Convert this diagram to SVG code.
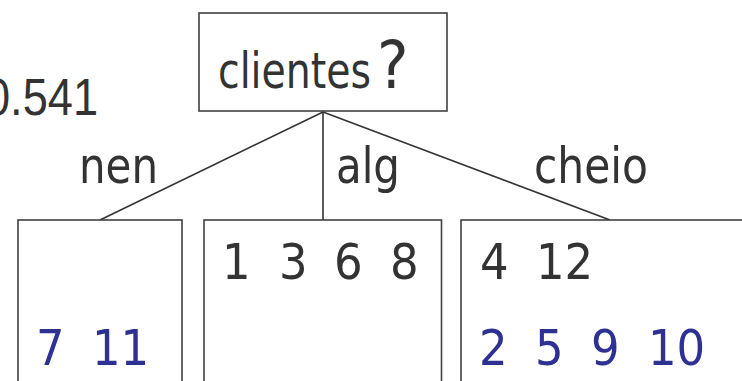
<svg xmlns="http://www.w3.org/2000/svg" width="742" height="381" viewBox="0 0 742 381">
  <style>
    .box { fill: #ffffff; stroke: #404040; stroke-width: 1.6; }
    .edge { stroke: #333333; stroke-width: 1.6; fill: none; }
    .lbl { font-family: "DejaVu Sans Condensed", "DejaVu Sans", sans-serif; font-stretch: condensed; font-size: 50px; fill: #333333; }
    .big { font-size: 66px; }
    .num { font-family: "DejaVu Sans Condensed", "DejaVu Sans", sans-serif; font-stretch: condensed; font-size: 50px; }
    .dark { fill: #333333; }
    .blue { fill: #2e3192; }
    .val { font-family: "Liberation Sans", Arial, sans-serif; font-size: 51px; fill: #333333; }
  </style>

  <rect width="742" height="381" fill="#ffffff"/>

  <!-- information gain value, running off the left edge -->
  <text class="val" x="-15" y="115" textLength="113" lengthAdjust="spacingAndGlyphs">0.541</text>

  <!-- branches from the test node -->
  <g id="connectors">
    <line class="edge" x1="323" y1="112" x2="100" y2="220"/>
    <line class="edge" x1="323" y1="112" x2="323" y2="220"/>
    <line class="edge" x1="323" y1="112" x2="610" y2="220"/>
    <text class="lbl" x="79" y="183" textLength="79" lengthAdjust="spacingAndGlyphs">nen</text>
    <text class="lbl" x="336" y="183" textLength="64" lengthAdjust="spacingAndGlyphs">alg</text>
    <text class="lbl" x="534" y="183" textLength="114" lengthAdjust="spacingAndGlyphs">cheio</text>
  </g>

  <!-- test node -->
  <g id="node-clientes">
    <rect class="box" x="199" y="13" width="248" height="98"/>
    <text class="lbl" x="218" y="88"><tspan textLength="153" lengthAdjust="spacingAndGlyphs">clientes</tspan><tspan class="big" x="377">?</tspan></text>
  </g>

  <!-- leaf: nen -->
  <g id="node-nen">
    <rect class="box" x="18" y="220" width="164" height="200"/>
    <text class="num blue" y="365"><tspan x="36">7</tspan><tspan x="92">11</tspan></text>
  </g>

  <!-- leaf: alg -->
  <g id="node-alg">
    <rect class="box" x="204" y="220" width="237.5" height="200"/>
    <text class="num dark" y="279"><tspan x="222">1</tspan><tspan x="279">3</tspan><tspan x="334">6</tspan><tspan x="390">8</tspan></text>
  </g>

  <!-- leaf: cheio -->
  <g id="node-cheio">
    <rect class="box" x="461" y="220" width="320" height="200"/>
    <text class="num dark" y="279"><tspan x="480">4</tspan><tspan x="536">12</tspan></text>
    <text class="num blue" y="365"><tspan x="479">2</tspan><tspan x="535">5</tspan><tspan x="591">9</tspan><tspan x="648">10</tspan></text>
  </g>
</svg>
